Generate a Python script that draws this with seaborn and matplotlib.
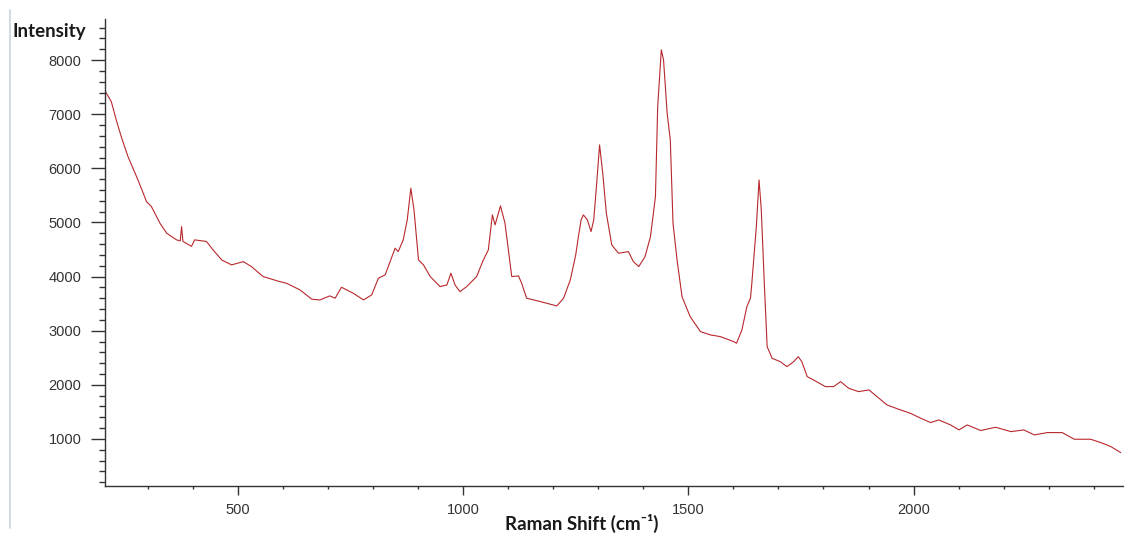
import numpy as np
import pandas as pd
import matplotlib
matplotlib.use('Agg')
import matplotlib.pyplot as plt
from matplotlib.ticker import MultipleLocator
from matplotlib.lines import Line2D
import seaborn as sns

# Espectro Raman (desplazamiento en cm-1, intensidad)
shift = [206, 219, 230, 241, 256, 275, 290, 297, 308, 327, 342, 364, 372, 375, 378,
         397, 404, 430, 445, 464, 486, 512, 530, 556, 593, 608, 638, 664, 682, 704,
         716, 730, 756, 779, 797, 812, 827, 842, 849, 856, 867, 876, 884, 891, 901,
         912, 927, 949, 964, 973, 982, 993, 1008, 1030, 1045, 1056, 1065, 1071, 1083,
         1093, 1108, 1123, 1130, 1141, 1163, 1186, 1208, 1223, 1238, 1250, 1256, 1262,
         1267, 1276, 1284, 1290, 1296, 1303, 1310, 1318, 1330, 1345, 1367, 1378, 1390,
         1404, 1416, 1427, 1432, 1440, 1445, 1453, 1460, 1466, 1475, 1486, 1504, 1527,
         1549, 1571, 1601, 1607, 1619, 1630, 1638, 1641, 1651, 1657, 1662, 1669, 1675,
         1686, 1704, 1719, 1734, 1744, 1752, 1764, 1778, 1804, 1823, 1838, 1856, 1878,
         1901, 1919, 1941, 1971, 1993, 2016, 2038, 2056, 2082, 2101, 2119, 2149, 2182,
         2216, 2245, 2268, 2297, 2330, 2357, 2393, 2416, 2438, 2460]
intensity = [7418, 7233, 6895, 6587, 6217, 5848, 5540, 5386, 5294, 4986, 4801, 4678, 4660, 4924, 4650,
             4558, 4678, 4650, 4493, 4308, 4216, 4277, 4185, 4000, 3907, 3877, 3753, 3582, 3568, 3643,
             3600, 3803, 3692, 3569, 3661, 3969, 4031, 4369, 4524, 4461, 4678, 5047, 5633, 5232, 4308,
             4216, 4000, 3815, 3846, 4062, 3846, 3722, 3815, 4000, 4308, 4493, 5140, 4955, 5306,
             4986, 4000, 4012, 3877, 3600, 3556, 3506, 3458, 3600, 3938, 4400, 4739, 5047,
             5140, 5047, 4831, 5047, 5663, 6433, 5910, 5170, 4585, 4431, 4461, 4277, 4185,
             4370, 4739, 5478, 7141, 8189, 8004, 7019, 6525, 4986, 4308, 3630, 3260, 2983,
             2922, 2891, 2798, 2768, 3014, 3446, 3600, 3877, 4924, 5786, 5232, 3815, 2706,
             2490, 2428, 2336, 2428, 2520, 2428, 2151, 2090, 1967, 1967, 2059, 1936, 1874,
             1906, 1782, 1628, 1536, 1474, 1382, 1302, 1351, 1259, 1166, 1259, 1155, 1216,
             1135, 1166, 1074, 1117, 1117, 994, 994, 932, 858, 747]

df = pd.DataFrame({'Shift': shift, 'Intensity': intensity})

sns.set_style('ticks')
plt.rcParams['font.family'] = ['Liberation Sans', 'DejaVu Sans']

fig = plt.figure(figsize=(11.33, 5.43), dpi=100)
ax = fig.add_axes([105 / 1133, 1 - 486 / 543, (1123 - 105) / 1133, (486 - 19) / 543])

sns.lineplot(data=df, x='Shift', y='Intensity', ax=ax, color='#b8282c', linewidth=0.8)

ax.set_xlim(205, 2465)
ax.set_ylim(130, 8760)
ax.xaxis.set_major_locator(MultipleLocator(500))
ax.xaxis.set_minor_locator(MultipleLocator(100))
ax.yaxis.set_major_locator(MultipleLocator(1000))
ax.yaxis.set_minor_locator(MultipleLocator(200))

ax.tick_params(axis='y', which='major', length=10, width=1, pad=7, labelsize=10.5, colors='#333333')
ax.tick_params(axis='y', which='minor', length=4.5, width=1, colors='#333333')
ax.tick_params(axis='x', which='major', length=6.5, width=1, pad=6, labelsize=10.5, colors='#333333')
ax.tick_params(axis='x', which='minor', length=2.5, width=1, colors='#333333')

ax.set_xlabel('')
ax.set_ylabel('')
sns.despine(ax=ax)
for s in ['left', 'bottom']:
    ax.spines[s].set_color('#333333')
    ax.spines[s].set_linewidth(1.0)

fig.text(12 / 1133, 1 - 31 / 543, 'Intensity', ha='left', va='center',
         fontsize=13.5, fontweight='bold', family=['Lato', 'DejaVu Sans'], color='#1a1a1a')
fig.text(582 / 1133, 1 - 523 / 543, 'Raman Shift (cm\u207b\u00b9)', ha='center', va='center',
         fontsize=13.5, fontweight='bold', family=['Lato', 'DejaVu Sans'], color='#1a1a1a')

# linea vertical clara del borde izquierdo (captura original)
fig.add_artist(Line2D([10 / 1133, 10 / 1133], [1 - 10 / 543, 1 - 528 / 543],
                      transform=fig.transFigure, color='#c9d2de', linewidth=1.2))

fig.savefig('out.png', dpi=100)
